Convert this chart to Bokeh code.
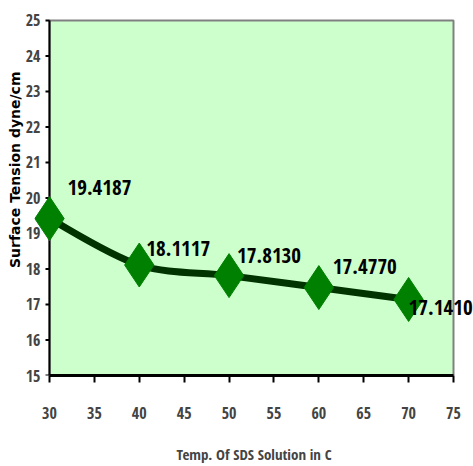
from bokeh.plotting import figure
from bokeh.models import Range1d, FixedTicker, Label, Title
from bokeh.embed import file_html
from bokeh.resources import INLINE

# Surface tension of SDS solution versus temperature
temps = [30, 40, 50, 60, 70]
tension = [19.4187, 18.1117, 17.8130, 17.4770, 17.1410]
x_ticks = [30, 35, 40, 45, 50, 55, 60, 65, 70, 75]
y_ticks = [15, 16, 17, 18, 19, 20, 21, 22, 23, 24, 25]
x_title = "Temp. Of SDS Solution in C"
y_title = "Surface Tension dyne/cm"

# pixel nudges for each value label (right, up)
label_dx = [18, 7, 8, 14, 0]
label_dy = [31, 17, 20, 21, -8]

NARROW = "Open Sans Condensed"

# plot-area geometry in pixels: the axis box spans 404 x 361 px, its
# lower-left corner at (49, 381)
W, H = 473, 466
box_left, box_top, box_w, box_h = 49, 20, 404, 361
x_lo, x_hi = x_ticks[0], x_ticks[-1]
y_lo, y_hi = y_ticks[0], y_ticks[-1]
px_x = box_w / (x_hi - x_lo)
px_y = box_h / (y_hi - y_lo)
# the frame reaches past the box so edge markers and labels stay whole
pad_l, pad_t = 15, 3
pad_r = W - box_left - box_w
tick_len = 4

p = figure(width=W, height=H, output_backend="svg", toolbar_location=None,
           x_range=Range1d(x_lo - pad_l / px_x, x_hi + pad_r / px_x),
           y_range=Range1d(y_lo, y_hi + pad_t / px_y),
           min_border_left=box_left - pad_l, min_border_right=0,
           min_border_top=box_top - pad_t,
           min_border_bottom=H - box_top - box_h)

p.background_fill_color = "white"
p.border_fill_color = "white"
p.outline_line_color = None
p.xgrid.visible = False
p.ygrid.visible = False

# pale green plot area with grey border
p.quad(left=[x_lo], right=[x_hi], bottom=[y_lo], top=[y_hi],
       fill_color="#CCFFCC", line_color="#808080", line_width=2)

# y axis line and outward ticks on the box edge at x = 30
p.segment(x0=[x_lo], y0=[y_lo], x1=[x_lo], y1=[y_hi],
          line_color="black", line_width=2)
p.segment(x0=[x_lo - tick_len / px_x] * len(y_ticks), y0=y_ticks,
          x1=[x_lo] * len(y_ticks), y1=y_ticks,
          line_color="black", line_width=2)

# smoothed curve through the points (cubic Bezier segments, Catmull-Rom style tangents)
n = len(temps)
seg = dict(x0=[], y0=[], x1=[], y1=[], cx0=[], cy0=[], cx1=[], cy1=[])
for i in range(n - 1):
    xa, ya = temps[i], tension[i]
    xb, yb = temps[i + 1], tension[i + 1]
    xp, yp = (temps[i - 1], tension[i - 1]) if i > 0 else (xa, ya)
    xn, yn = (temps[i + 2], tension[i + 2]) if i + 2 < n else (xb, yb)
    seg["x0"].append(xa); seg["y0"].append(ya)
    seg["x1"].append(xb); seg["y1"].append(yb)
    seg["cx0"].append(xa + (xb - xp) / 6.0); seg["cy0"].append(ya + (yb - yp) / 6.0)
    seg["cx1"].append(xb - (xn - xa) / 6.0); seg["cy1"].append(yb - (yn - ya) / 6.0)

p.bezier(x0="x0", y0="y0", x1="x1", y1="y1", cx0="cx0", cy0="cy0",
         cx1="cx1", cy1="cy1", source=seg, line_color="#003300", line_width=7)

p.scatter(temps, tension, marker="diamond", size=44,
          fill_color="#008000", line_color="#008000", line_width=1)

# value labels
for xv, yv, dx, dy in zip(temps, tension, label_dx, label_dy):
    p.add_layout(Label(x=xv, y=yv, text=f"{yv:.4f}", x_offset=dx, y_offset=dy,
                       text_font=NARROW, text_font_style="bold",
                       text_font_size="21px", text_color="black",
                       text_align="left", text_baseline="alphabetic"))

# x axis along the bottom of the box
p.xaxis.ticker = FixedTicker(ticks=x_ticks)
p.xaxis.bounds = (x_lo, x_hi)
p.xaxis.minor_tick_line_color = None
p.xaxis.axis_line_color = "black"
p.xaxis.axis_line_width = 3
p.xaxis.major_tick_line_color = "black"
p.xaxis.major_tick_line_width = 2
p.xaxis.major_tick_in = 0
p.xaxis.major_tick_out = 7
p.xaxis.major_label_standoff = 24
p.xaxis.major_label_text_font = NARROW
p.xaxis.major_label_text_font_style = "bold"
p.xaxis.major_label_text_font_size = "16px"
p.xaxis.axis_label = x_title
p.xaxis.axis_label_text_font = NARROW
p.xaxis.axis_label_text_font_style = "bold"
p.xaxis.axis_label_text_font_size = "15px"
p.xaxis.axis_label_standoff = 22

# y axis numbers at the left edge (line and ticks drawn above on the box)
yl = p.yaxis[0]
yl.ticker = FixedTicker(ticks=y_ticks)
yl.minor_tick_line_color = None
yl.axis_line_color = None
yl.major_tick_line_color = None
yl.major_tick_in = 0
yl.major_tick_out = 0
yl.major_label_standoff = -(pad_l - tick_len - 5)
yl.major_label_text_font = NARROW
yl.major_label_text_font_style = "bold"
yl.major_label_text_font_size = "16px"

# vertical axis title
p.add_layout(Title(text=y_title, align="right", offset=54, standoff=0,
                   text_font="DejaVu Sans", text_font_style="bold",
                   text_font_size="14px", text_color="black"), "left")

open("out.html", "w").write(file_html(p, INLINE))
